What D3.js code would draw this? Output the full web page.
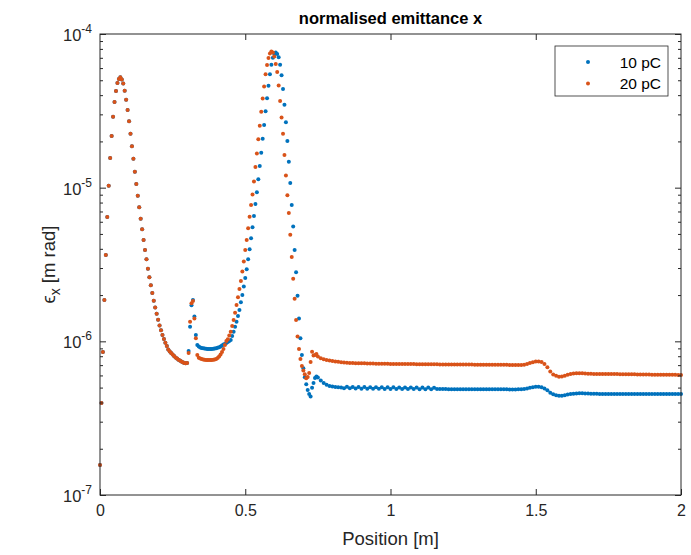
<!DOCTYPE html>
<html>
<head>
<meta charset="utf-8">
<script src="https://cdn.jsdelivr.net/npm/d3@7"></script>
<style>
    body { margin: 0; background: #fff; }
    svg { display: block; font-family: "Liberation Sans", Arial, Helvetica, sans-serif; }
</style>
</head>
<body>
<svg id="chart" width="691" height="555"></svg>
<script>
// Positions [m], first part (both series identical there)
const posShared = [
    0, 0.005, 0.01, 0.015, 0.02, 0.025, 0.03, 0.035, 0.04, 0.045,
    0.05, 0.055, 0.06, 0.065, 0.07, 0.075, 0.08, 0.085, 0.09, 0.095,
    0.1, 0.105, 0.11, 0.115, 0.12, 0.125, 0.13, 0.135, 0.14, 0.145,
    0.15, 0.155, 0.16, 0.165, 0.17, 0.175, 0.18, 0.185, 0.19, 0.195,
    0.2, 0.205, 0.21, 0.215, 0.22, 0.225, 0.23, 0.235, 0.24, 0.245,
    0.25, 0.255, 0.26, 0.265, 0.27, 0.275, 0.28, 0.285, 0.29, 0.295,
    0.3,
];
const epsShared = [
    1.57e-7, 3.97e-7, 8.53e-7, 1.86e-6, 3.65e-6, 6.44e-6, 1.03e-5, 1.56e-5, 2.17e-5, 2.89e-5,
    3.61e-5, 4.26e-5, 4.8e-5, 5.1e-5, 5.23e-5, 5.06e-5, 4.76e-5, 4.28e-5, 3.74e-5, 3.2e-5,
    2.71e-5, 2.24e-5, 1.86e-5, 1.54e-5, 1.27e-5, 1.057e-5, 8.87e-6, 7.46e-6, 6.28e-6, 5.36e-6,
    4.57e-6, 3.93e-6, 3.42e-6, 2.97e-6, 2.61e-6, 2.32e-6, 2.06e-6, 1.84e-6, 1.66e-6, 1.51e-6,
    1.38e-6, 1.27e-6, 1.18e-6, 1.1e-6, 1.036e-6, 9.8e-7, 9.33e-7, 8.86e-7, 8.6e-7, 8.4e-7,
    8.22e-7, 8.03e-7, 7.86e-7, 7.72e-7, 7.59e-7, 7.49e-7, 7.4e-7, 7.32e-7, 7.24e-7, 7.2e-7,
    7.24e-7,
];

// Positions where the two charges separate
const posSplit = [
    0.305, 0.31, 0.315, 0.32, 0.325, 0.33, 0.335, 0.34, 0.345, 0.35,
    0.355, 0.36, 0.365, 0.37, 0.375, 0.38, 0.385, 0.39, 0.395, 0.4,
    0.405, 0.41, 0.415, 0.42, 0.425, 0.43, 0.435, 0.44, 0.445, 0.45,
    0.455, 0.46, 0.465, 0.47, 0.475, 0.48, 0.485, 0.49, 0.495, 0.5,
    0.505, 0.51, 0.515, 0.52, 0.525, 0.53, 0.535, 0.54, 0.545, 0.55,
    0.555, 0.56, 0.565, 0.57, 0.575, 0.58, 0.585, 0.59, 0.595, 0.6,
    0.605, 0.61, 0.615, 0.62, 0.625, 0.63, 0.635, 0.64, 0.645, 0.65,
    0.655, 0.66, 0.665, 0.67, 0.675, 0.68, 0.685, 0.69, 0.695, 0.7,
    0.705, 0.71, 0.715, 0.72, 0.725, 0.73, 0.735, 0.74, 0.745, 0.75,
];
const eps10Split = [
    8.66e-7, 1.246e-6, 1.72e-6, 1.86e-6, 1.45e-6, 1.1e-6, 9.47e-7, 9.24e-7, 9.13e-7, 9.06e-7,
    9.02e-7, 8.98e-7, 8.95e-7, 8.92e-7, 8.92e-7, 8.92e-7, 8.92e-7, 8.95e-7, 8.99e-7, 9.03e-7,
    9.09e-7, 9.15e-7, 9.26e-7, 9.4e-7, 9.55e-7, 9.62e-7, 9.76e-7, 9.91e-7, 1.006e-6, 1.021e-6,
    1.084e-6, 1.156e-6, 1.246e-6, 1.343e-6, 1.463e-6, 1.6e-6, 1.796e-6, 2.004e-6, 2.27e-6, 2.58e-6,
    2.95e-6, 3.42e-6, 3.97e-6, 4.68e-6, 5.53e-6, 6.54e-6, 7.82e-6, 9.33e-6, 1.134e-5, 1.384e-5,
    1.69e-5, 2.08e-5, 2.56e-5, 3.14e-5, 3.82e-5, 4.6e-5, 5.47e-5, 6.3e-5, 7.0e-5, 7.42e-5,
    7.57e-5, 7.42e-5, 7.05e-5, 6.3e-5, 5.39e-5, 4.39e-5, 3.47e-5, 2.67e-5, 2.01e-5, 1.476e-5,
    1.073e-5, 7.71e-6, 5.58e-6, 3.93e-6, 2.82e-6, 1.98e-6, 1.41e-6, 1.047e-6, 8.16e-7, 6.68e-7,
    5.84e-7, 5.26e-7, 4.83e-7, 4.55e-7, 4.37e-7, 4.98e-7, 5.36e-7, 5.78e-7, 5.91e-7, 5.82e-7,
];
const eps20Split = [
    8.4e-7, 1.34e-6, 1.77e-6, 1.83e-6, 1.41e-6, 1.047e-6, 8.16e-7, 7.83e-7, 7.74e-7, 7.68e-7,
    7.63e-7, 7.59e-7, 7.57e-7, 7.57e-7, 7.57e-7, 7.57e-7, 7.57e-7, 7.59e-7, 7.63e-7, 7.68e-7,
    7.8e-7, 7.98e-7, 8.22e-7, 8.53e-7, 8.92e-7, 9.47e-7, 1.006e-6, 1.033e-6, 1.092e-6, 1.156e-6,
    1.259e-6, 1.378e-6, 1.537e-6, 1.725e-6, 1.936e-6, 2.193e-6, 2.47e-6, 2.85e-6, 3.31e-6, 3.93e-6,
    4.57e-6, 5.44e-6, 6.47e-6, 7.71e-6, 9.03e-6, 1.097e-5, 1.364e-5, 1.67e-5, 2.066e-5, 2.53e-5,
    3.12e-5, 3.81e-5, 4.55e-5, 5.47e-5, 6.28e-5, 6.98e-5, 7.47e-5, 7.7e-5, 7.58e-5, 7.13e-5,
    6.37e-5, 5.65e-5, 4.62e-5, 3.66e-5, 2.86e-5, 2.24e-5, 1.632e-5, 1.2e-5, 8.94e-6, 6.84e-6,
    4.93e-6, 3.54e-6, 2.55e-6, 1.89e-6, 1.378e-6, 1.075e-6, 8.92e-7, 7.68e-7, 6.92e-7, 6.45e-7,
    6.11e-7, 5.75e-7, 5.87e-7, 6.23e-7, 7.35e-7, 8.57e-7, 8.1e-7, 8.16e-7, 8.28e-7, 7.98e-7,
];

// Positions after the second peak
const posTail = [
    0.76, 0.77, 0.78, 0.79, 0.8, 0.81, 0.82, 0.83, 0.84, 0.85,
    0.86, 0.87, 0.88, 0.89, 0.9, 0.91, 0.92, 0.93, 0.94, 0.95,
    0.96, 0.97, 0.98, 0.99, 1, 1.01, 1.02, 1.03, 1.04, 1.05,
    1.06, 1.07, 1.08, 1.09, 1.1, 1.11, 1.12, 1.13, 1.14, 1.15,
    1.16, 1.17, 1.18, 1.19, 1.2, 1.21, 1.22, 1.23, 1.24, 1.25,
    1.26, 1.27, 1.28, 1.29, 1.3, 1.31, 1.32, 1.33, 1.34, 1.35,
    1.36, 1.37, 1.38, 1.39, 1.4, 1.41, 1.42, 1.43, 1.44, 1.45,
    1.46, 1.47, 1.48, 1.49, 1.5, 1.51, 1.52, 1.53, 1.54, 1.55,
    1.56, 1.57, 1.58, 1.59, 1.6, 1.61, 1.62, 1.63, 1.64, 1.65,
    1.66, 1.67, 1.68, 1.69, 1.7, 1.71, 1.72, 1.73, 1.74, 1.75,
    1.76, 1.77, 1.78, 1.79, 1.8, 1.81, 1.82, 1.83, 1.84, 1.85,
    1.86, 1.87, 1.88, 1.89, 1.9, 1.91, 1.92, 1.93, 1.94, 1.95,
    1.96, 1.97, 1.98, 1.99, 2,
];
const eps10Tail = [
    5.57e-7, 5.36e-7, 5.21e-7, 5.13e-7, 5.08e-7, 5.05e-7, 5.03e-7, 5.01e-7, 4.96e-7, 5.06e-7,
    4.95e-7, 5.05e-7, 4.93e-7, 5.04e-7, 4.92e-7, 5.04e-7, 4.92e-7, 5.03e-7, 4.91e-7, 5.03e-7,
    4.91e-7, 5.02e-7, 4.9e-7, 5.02e-7, 4.9e-7, 5.02e-7, 4.9e-7, 5.01e-7, 4.89e-7, 5.01e-7,
    4.89e-7, 5.01e-7, 4.89e-7, 5.0e-7, 4.88e-7, 5.0e-7, 4.88e-7, 5.0e-7, 4.88e-7, 4.99e-7,
    4.89e-7, 4.89e-7, 4.89e-7, 4.89e-7, 4.88e-7, 4.88e-7, 4.88e-7, 4.88e-7, 4.88e-7, 4.88e-7,
    4.88e-7, 4.88e-7, 4.88e-7, 4.88e-7, 4.88e-7, 4.87e-7, 4.87e-7, 4.87e-7, 4.87e-7, 4.87e-7,
    4.87e-7, 4.87e-7, 4.87e-7, 4.87e-7, 4.87e-7, 4.86e-7, 4.86e-7, 4.86e-7, 4.87e-7, 4.88e-7,
    4.9e-7, 4.94e-7, 4.99e-7, 5.03e-7, 5.06e-7, 5.07e-7, 5.03e-7, 4.94e-7, 4.8e-7, 4.63e-7,
    4.52e-7, 4.45e-7, 4.42e-7, 4.43e-7, 4.46e-7, 4.5e-7, 4.54e-7, 4.56e-7, 4.58e-7, 4.6e-7,
    4.6e-7, 4.58e-7, 4.57e-7, 4.56e-7, 4.56e-7, 4.56e-7, 4.55e-7, 4.55e-7, 4.55e-7, 4.55e-7,
    4.54e-7, 4.54e-7, 4.54e-7, 4.54e-7, 4.54e-7, 4.54e-7, 4.54e-7, 4.54e-7, 4.54e-7, 4.54e-7,
    4.54e-7, 4.54e-7, 4.54e-7, 4.54e-7, 4.54e-7, 4.54e-7, 4.54e-7, 4.54e-7, 4.54e-7, 4.54e-7,
    4.54e-7, 4.54e-7, 4.54e-7, 4.54e-7, 4.54e-7,
];
const eps20Tail = [
    7.77e-7, 7.64e-7, 7.57e-7, 7.51e-7, 7.46e-7, 7.4e-7, 7.37e-7, 7.32e-7, 7.29e-7, 7.26e-7,
    7.24e-7, 7.23e-7, 7.21e-7, 7.19e-7, 7.19e-7, 7.19e-7, 7.18e-7, 7.18e-7, 7.17e-7, 7.16e-7,
    7.15e-7, 7.14e-7, 7.14e-7, 7.14e-7, 7.13e-7, 7.13e-7, 7.13e-7, 7.12e-7, 7.12e-7, 7.12e-7,
    7.11e-7, 7.11e-7, 7.11e-7, 7.1e-7, 7.1e-7, 7.1e-7, 7.1e-7, 7.09e-7, 7.09e-7, 7.09e-7,
    7.09e-7, 7.08e-7, 7.08e-7, 7.08e-7, 7.08e-7, 7.07e-7, 7.07e-7, 7.07e-7, 7.07e-7, 7.06e-7,
    7.06e-7, 7.06e-7, 7.06e-7, 7.05e-7, 7.05e-7, 7.05e-7, 7.05e-7, 7.04e-7, 7.04e-7, 7.04e-7,
    7.04e-7, 7.04e-7, 7.03e-7, 7.03e-7, 7.03e-7, 7.02e-7, 7.02e-7, 7.02e-7, 7.02e-7, 7.02e-7,
    7.04e-7, 7.13e-7, 7.24e-7, 7.32e-7, 7.38e-7, 7.4e-7, 7.35e-7, 7.13e-7, 6.77e-7, 6.37e-7,
    6.09e-7, 5.96e-7, 5.89e-7, 5.91e-7, 5.97e-7, 6.05e-7, 6.12e-7, 6.18e-7, 6.2e-7, 6.2e-7,
    6.2e-7, 6.18e-7, 6.16e-7, 6.15e-7, 6.14e-7, 6.14e-7, 6.14e-7, 6.13e-7, 6.13e-7, 6.13e-7,
    6.12e-7, 6.12e-7, 6.12e-7, 6.11e-7, 6.11e-7, 6.11e-7, 6.1e-7, 6.1e-7, 6.1e-7, 6.09e-7,
    6.09e-7, 6.08e-7, 6.08e-7, 6.08e-7, 6.07e-7, 6.07e-7, 6.07e-7, 6.06e-7, 6.06e-7, 6.06e-7,
    6.05e-7, 6.05e-7, 6.05e-7, 6.04e-7, 6.04e-7,
];

const seriesNames = ["10 pC", "20 pC"];
const seriesColors = ["#0072BD", "#D95319"];
const xTicks = [0, 0.5, 1, 1.5, 2];
const yTicks = [1e-7, 1e-6, 1e-5, 1e-4];
const yTickExp = ["-7", "-6", "-5", "-4"];

const ink = "#262626";
const plot = { left: 100, right: 681, top: 34, bottom: 495 };
const DOT_R = 2;

function toPoints(pos, vals) {
    return pos.map((p, i) => ({ x: p, y: vals[i] }));
}

const series = [
    toPoints(posShared, epsShared).concat(toPoints(posSplit, eps10Split), toPoints(posTail, eps10Tail)),
    toPoints(posShared, epsShared).concat(toPoints(posSplit, eps20Split), toPoints(posTail, eps20Tail)),
];

const svg = d3.select("#chart");

const x = d3.scaleLinear().domain([0, 2]).range([plot.left, plot.right]);
const y = d3.scaleLog().domain([1e-7, 1e-4]).range([plot.bottom, plot.top]);

// points (10 pC drawn first, 20 pC on top)
series.forEach((pts, si) => {
    svg.append("g")
        .attr("fill", seriesColors[si])
        .selectAll("circle")
        .data(pts)
        .join("circle")
        .attr("cx", (d) => x(d.x))
        .attr("cy", (d) => y(d.y))
        .attr("r", DOT_R);
});

// axes, ticks pointing inwards like matlab
function styleAxis(g) {
    g.select(".domain").remove();
    g.selectAll(".tick line").attr("stroke", ink);
    g.selectAll(".tick text").attr("fill", ink).attr("font-size", 16);
}

svg.append("g")
    .attr("transform", `translate(0,${plot.bottom})`)
    .call(d3.axisBottom(x).tickValues(xTicks).tickSizeInner(-6).tickSizeOuter(0).tickPadding(10).tickFormat((d) => d))
    .call(styleAxis);

svg.append("g")
    .attr("transform", `translate(0,${plot.top})`)
    .call(d3.axisTop(x).tickValues(xTicks.slice(1, -1)).tickSizeInner(-6).tickSizeOuter(0).tickFormat(() => ""))
    .call(styleAxis);

const minorTicks = y.ticks().filter((t) => !yTicks.includes(t));

[[d3.axisLeft, plot.left], [d3.axisRight, plot.right]].forEach(([axisFn, pos]) => {
    svg.append("g")
        .attr("transform", `translate(${pos},0)`)
        .call(axisFn(y).tickValues(yTicks).tickSizeInner(-6).tickSizeOuter(0).tickFormat(() => ""))
        .call(styleAxis);
    svg.append("g")
        .attr("transform", `translate(${pos},0)`)
        .call(axisFn(y).tickValues(minorTicks).tickSizeInner(-3).tickSizeOuter(0).tickFormat(() => ""))
        .call(styleAxis);
});

// 10^n labels
const yLabels = svg.append("g")
    .attr("fill", ink)
    .attr("font-size", 16.5)
    .attr("text-anchor", "end")
    .selectAll("text")
    .data(yTicks)
    .join("text")
    .attr("x", plot.left - 8)
    .attr("y", (d) => y(d) + 7);
yLabels.append("tspan").text("10");
yLabels.append("tspan")
    .attr("dy", -8)
    .attr("font-size", 12)
    .text((d, i) => yTickExp[i]);

// box
svg.append("rect")
    .attr("x", plot.left)
    .attr("y", plot.top)
    .attr("width", plot.right - plot.left)
    .attr("height", plot.bottom - plot.top)
    .attr("fill", "none")
    .attr("stroke", ink)
    .attr("stroke-width", 1);

// title and axis labels
svg.append("text")
    .attr("x", (plot.left + plot.right) / 2)
    .attr("y", 24)
    .attr("text-anchor", "middle")
    .attr("font-weight", "bold")
    .attr("font-size", 16.5)
    .attr("fill", "#000")
    .text("normalised emittance x");

svg.append("text")
    .attr("x", (plot.left + plot.right) / 2)
    .attr("y", 545)
    .attr("text-anchor", "middle")
    .attr("font-size", 18.5)
    .attr("fill", ink)
    .text("Position [m]");

const yTitle = svg.append("text")
    .attr("transform", `translate(55,${(plot.top + plot.bottom) / 2}) rotate(-90)`)
    .attr("text-anchor", "middle")
    .attr("font-size", 18.5)
    .attr("fill", ink);
yTitle.append("tspan").text("\u03F5");
yTitle.append("tspan").attr("dy", 5).attr("font-size", 14).text("x");
yTitle.append("tspan").attr("dy", -5).text(" [m rad]");

// legend
const legend = svg.append("g");
legend.append("rect")
    .attr("x", 555)
    .attr("y", 46)
    .attr("width", 113)
    .attr("height", 50)
    .attr("fill", "#fff")
    .attr("stroke", ink)
    .attr("stroke-width", 0.8);

const items = legend.selectAll("g.item")
    .data(seriesNames)
    .join("g")
    .attr("class", "item")
    .attr("transform", (d, i) => `translate(0,${62 + i * 21.5})`);
items.append("circle")
    .attr("cx", 588)
    .attr("cy", 0)
    .attr("r", DOT_R)
    .attr("fill", (d, i) => seriesColors[i]);
items.append("text")
    .attr("x", 661)
    .attr("y", 5.5)
    .attr("text-anchor", "end")
    .attr("font-size", 15.5)
    .attr("fill", "#000")
    .text((d) => d);
</script>
</body>
</html>
